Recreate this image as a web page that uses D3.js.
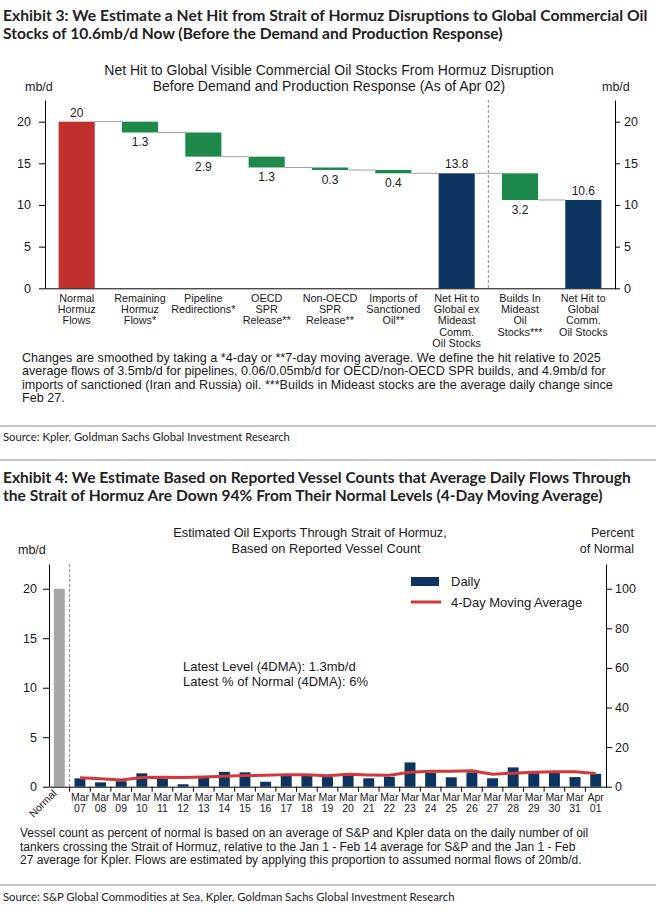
<!DOCTYPE html>
<html>
<head>
<meta charset="utf-8">
<script src="https://cdn.jsdelivr.net/npm/d3@7"></script>
<style>
  body { margin: 0; background: #fff; }
  svg { display: block; }
  .chart text { font-family: "Liberation Sans", Arial, sans-serif; fill: #1a1a1a; }
  .chart text.head { font-family: Lato, "Open Sans", sans-serif; font-weight: 700; fill: #222; }
  .chart text.src { font-family: Lato, "Open Sans", sans-serif; fill: #222; }
</style>
</head>
<body>
<div id="page"></div>
<script>
// ---- Exhibit 3 data (waterfall) ----
const wfCategories = ["normal", "remaining", "pipeline", "oecd", "nonoecd", "sanctioned", "exMideast", "builds", "global"];
const wfLabels = [
    ["Normal", "Hormuz", "Flows"],
    ["Remaining", "Hormuz", "Flows*"],
    ["Pipeline", "Redirections*"],
    ["OECD", "SPR", "Release**"],
    ["Non-OECD", "SPR", "Release**"],
    ["Imports of", "Sanctioned", "Oil**"],
    ["Net Hit to", "Global ex", "Mideast", "Comm.", "Oil Stocks"],
    ["Builds In", "Mideast", "Oil", "Stocks***"],
    ["Net Hit to", "Global", "Comm.", "Oil Stocks"]
];
const wfValues = [20, 1.3, 2.9, 1.3, 0.3, 0.4, 13.8, 3.2, 10.6];
const wfKinds = ["start", "drop", "drop", "drop", "drop", "drop", "total", "drop", "total"];
const wfTicks = [0, 5, 10, 15, 20];

// ---- Exhibit 4 data (daily flows, mb/d) ----
const flowMonths = ["Mar", "Mar", "Mar", "Mar", "Mar", "Mar", "Mar", "Mar", "Mar", "Mar", "Mar", "Mar", "Mar",
    "Mar", "Mar", "Mar", "Mar", "Mar", "Mar", "Mar", "Mar", "Mar", "Mar", "Mar", "Mar", "Apr"];
const flowDays = ["07", "08", "09", "10", "11", "12", "13", "14", "15", "16", "17", "18", "19",
    "20", "21", "22", "23", "24", "25", "26", "27", "28", "29", "30", "31", "01"];
const normalFlow = 20;
const dailyFlows = [0.84, 0.44, 0.55, 1.35, 1.05, 0.25, 0.9, 1.5, 1.45, 0.5, 1.1, 1.25, 0.97,
    1.15, 0.85, 1.0, 2.45, 1.4, 0.95, 1.45, 0.85, 1.95, 1.35, 1.55, 0.97, 1.3];
const movingAvg = [0.9, 0.8, 0.68, 0.92, 0.95, 0.93, 0.97, 1.05, 1.12, 1.15, 1.22, 1.2, 1.1,
    1.25, 1.18, 1.15, 1.45, 1.55, 1.55, 1.62, 1.25, 1.37, 1.47, 1.52, 1.52, 1.33];
const flowTicks = [0, 5, 10, 15, 20];
const pctTicks = [0, 20, 40, 60, 80, 100];

const RED = "#c0302e", GREEN = "#1d8a4c", NAVY = "#0c3461", GREY = "#a6a6a6", LINE_RED = "#d2383a";

const svg = d3.select("#page").append("svg")
    .attr("width", 658)
    .attr("height", 913)
    .attr("class", "chart");

// squeeze a text horizontally so it spans "width" px (narrow report font)
function fitText(sel, x0, y0, width) {
    const len = sel.node().getComputedTextLength();
    sel.attr("transform", `translate(${x0},${y0}) scale(${width / len},1)`);
}

// headings / sources / rules
function heading(text, y, width) {
    const t = svg.append("text").attr("class", "head")
        .style("font-size", "15.5px")
        .text(text);
    fitText(t, 3, y, width);
}
heading("Exhibit 3: We Estimate a Net Hit from Strait of Hormuz Disruptions to Global Commercial Oil", 21, 645);
heading("Stocks of 10.6mb/d Now (Before the Demand and Production Response)", 39, 500);
heading("Exhibit 4: We Estimate Based on Reported Vessel Counts that Average Daily Flows Through", 483, 628);
heading("the Strait of Hormuz Are Down 94% From Their Normal Levels (4-Day Moving Average)", 501, 600);

function rule(y) {
    svg.append("line").attr("x1", 0).attr("x2", 656).attr("y1", y).attr("y2", y)
        .attr("stroke", "#8c8c8c").attr("stroke-width", 1);
}
rule(426); rule(460); rule(885);

function source(text, y, width) {
    const t = svg.append("text").attr("class", "src")
        .style("font-size", "11.5px")
        .text(text);
    fitText(t, 3, y, width);
}
source("Source: Kpler, Goldman Sachs Global Investment Research", 441, 287);
source("Source: S&P Global Commodities at Sea, Kpler, Goldman Sachs Global Investment Research", 901, 452);

function notes(lines, x, y0, step, size, sx) {
    const g = svg.append("g").attr("transform", `translate(${x},0) scale(${sx},1)`);
    lines.forEach((t, i) => {
        g.append("text").attr("x", 0).attr("y", y0 + i * step)
            .style("font-size", size).text(t);
    });
}

// ================= Exhibit 3 =================
const x = d3.scaleBand().domain(wfCategories).range([45, 615])
    .paddingInner(0.43).paddingOuter(0.215);
const y = d3.scaleLinear().domain([0, 22.6]).range([288.3, 100]);

// running levels
let level = 0;
const wf = wfCategories.map((c, i) => {
    let top, bottom;
    if (wfKinds[i] === "drop") {
        top = level; bottom = level - wfValues[i]; level = bottom;
    } else {
        top = wfValues[i]; bottom = 0; level = top;
    }
    return { key: c, top, bottom, kind: wfKinds[i], value: wfValues[i] };
});

const g3 = svg.append("g");

// title
g3.append("text").attr("x", 329).attr("y", 75).attr("text-anchor", "middle")
    .style("font-size", "14px").text("Net Hit to Global Visible Commercial Oil Stocks From Hormuz Disruption");
g3.append("text").attr("x", 329).attr("y", 91).attr("text-anchor", "middle")
    .style("font-size", "14px").text("Before Demand and Production Response (As of Apr 02)");
g3.append("text").attr("x", 25).attr("y", 91).style("font-size", "12.5px").text("mb/d");
g3.append("text").attr("x", 602).attr("y", 91).style("font-size", "12.5px").text("mb/d");

// divider
const divX = x("builds") - x.step() * x.paddingInner() / 2;
g3.append("line").attr("x1", divX).attr("x2", divX).attr("y1", y(22.6)).attr("y2", y(0))
    .attr("stroke", "#8c8c8c").attr("stroke-dasharray", "3,2");

// connectors
wf.slice(0, -1).forEach((d, i) => {
    const lv = d.kind === "drop" ? d.bottom : d.top;
    g3.append("line")
        .attr("x1", x(d.key) + x.bandwidth()).attr("x2", x(wf[i + 1].key))
        .attr("y1", y(lv)).attr("y2", y(lv))
        .attr("stroke", "#a0a0a0").attr("stroke-width", 1);
});

// bars
g3.selectAll("rect.wf").data(wf).enter().append("rect")
    .attr("class", "wf")
    .attr("x", d => x(d.key))
    .attr("width", x.bandwidth())
    .attr("y", d => y(d.top))
    .attr("height", d => y(d.bottom) - y(d.top))
    .attr("fill", d => d.kind === "start" ? RED : d.kind === "total" ? NAVY : GREEN);

// value labels
g3.selectAll("text.val").data(wf).enter().append("text")
    .attr("class", "val")
    .attr("x", d => x(d.key) + x.bandwidth() / 2)
    .attr("y", d => d.kind === "drop" ? y(d.bottom) + 14 : y(d.top) - 5)
    .attr("text-anchor", "middle")
    .style("font-size", "12px")
    .text(d => d.value);

// axes
g3.append("g").attr("transform", "translate(45,0)")
    .call(d3.axisLeft(y).tickValues(wfTicks).tickSize(6).tickSizeOuter(0).tickPadding(8))
    .call(a => a.selectAll("text").style("font-size", "12.5px"));
g3.append("g").attr("transform", "translate(615,0)")
    .call(d3.axisRight(y).tickValues(wfTicks).tickSize(5).tickSizeOuter(0).tickPadding(4))
    .call(a => a.selectAll("text").style("font-size", "12.5px"));
g3.append("g").attr("transform", `translate(0,${y(0)})`)
    .call(d3.axisBottom(x).tickSize(0).tickSizeOuter(0).tickFormat(""));

// category labels
wfCategories.forEach((c, i) => {
    const t = g3.append("text")
        .attr("x", x(c) + x.bandwidth() / 2).attr("y", 302)
        .attr("text-anchor", "middle").style("font-size", "10.8px");
    wfLabels[i].forEach((ln, j) => {
        t.append("tspan").attr("x", x(c) + x.bandwidth() / 2).attr("dy", j === 0 ? 0 : 11.2).text(ln);
    });
});

notes([
    "Changes are smoothed by taking a *4-day or **7-day moving average. We define the hit relative to 2025",
    "average flows of 3.5mb/d for pipelines, 0.06/0.05mb/d for OECD/non-OECD SPR builds, and 4.9mb/d for",
    "imports of sanctioned (Iran and Russia) oil. ***Builds in Mideast stocks are the average daily change since",
    "Feb 27."
], 22, 362, 13.4, "12px", 1.05);

// ================= Exhibit 4 =================
const flowKeys = flowDays.map((d, i) => flowMonths[i] + " " + d);
const xb = d3.scaleBand().domain(["Normal", ...flowKeys]).range([49, 606])
    .paddingInner(0.47).paddingOuter(0.235);
const yb = d3.scaleLinear().domain([0, 22.5]).range([786.7, 564]);
const yp = d3.scaleLinear().domain([0, 112.5]).range([786.7, 564]);

const g4 = svg.append("g");

g4.append("text").attr("x", 310).attr("y", 537).attr("text-anchor", "middle")
    .style("font-size", "12.8px").text("Estimated Oil Exports Through Strait of Hormuz,");
g4.append("text").attr("x", 326).attr("y", 553).attr("text-anchor", "middle")
    .style("font-size", "12.8px").text("Based on Reported Vessel Count");
g4.append("text").attr("x", 18).attr("y", 554).style("font-size", "12.5px").text("mb/d");
g4.append("text").attr("x", 634).attr("y", 537).attr("text-anchor", "end").style("font-size", "12.5px").text("Percent");
g4.append("text").attr("x", 634).attr("y", 553).attr("text-anchor", "end").style("font-size", "12.5px").text("of Normal");

// divider after "Normal"
const div4 = xb(flowKeys[0]) - xb.step() * xb.paddingInner() / 2;
g4.append("line").attr("x1", div4).attr("x2", div4).attr("y1", yb(22.5)).attr("y2", yb(0))
    .attr("stroke", "#8c8c8c").attr("stroke-dasharray", "3,2");

// bars
g4.append("rect")
    .attr("x", xb("Normal")).attr("width", xb.bandwidth())
    .attr("y", yb(normalFlow)).attr("height", yb(0) - yb(normalFlow))
    .attr("fill", GREY);
g4.selectAll("rect.daily").data(dailyFlows).enter().append("rect")
    .attr("class", "daily")
    .attr("x", (d, i) => xb(flowKeys[i]))
    .attr("width", xb.bandwidth())
    .attr("y", d => yb(d))
    .attr("height", d => yb(0) - yb(d))
    .attr("fill", NAVY);

// moving average
g4.append("path")
    .datum(movingAvg)
    .attr("fill", "none")
    .attr("stroke", LINE_RED)
    .attr("stroke-width", 3)
    .attr("stroke-linejoin", "round")
    .attr("d", d3.line()
        .x((d, i) => xb(flowKeys[i]) + xb.bandwidth() / 2)
        .y(d => yb(d)));

// axes
g4.append("g").attr("transform", "translate(49,0)")
    .call(d3.axisLeft(yb).tickValues(flowTicks).tickSize(6).tickSizeOuter(0).tickPadding(6))
    .call(a => a.selectAll("text").style("font-size", "12.5px"));
g4.append("g").attr("transform", "translate(606,0)")
    .call(d3.axisRight(yp).tickValues(pctTicks).tickSize(6).tickSizeOuter(0).tickPadding(3))
    .call(a => a.selectAll("text").style("font-size", "12.5px"));
g4.append("g").attr("transform", `translate(0,${yb(0)})`)
    .call(d3.axisBottom(xb).tickSize(0).tickSizeOuter(0).tickFormat(""));

// ticks between bands
const bounds = xb.domain().slice(1).map(k => xb(k) - xb.step() * xb.paddingInner() / 2);
g4.selectAll("line.xt").data(bounds).enter().append("line")
    .attr("class", "xt")
    .attr("x1", d => d).attr("x2", d => d)
    .attr("y1", yb(0)).attr("y2", yb(0) + 5)
    .attr("stroke", "#000");

// date labels
flowKeys.forEach((k, i) => {
    const cx = xb(k) + xb.bandwidth() / 2;
    g4.append("text").attr("x", cx).attr("y", 801).attr("text-anchor", "middle")
        .style("font-size", "10.5px").text(flowMonths[i]);
    g4.append("text").attr("x", cx).attr("y", 812).attr("text-anchor", "middle")
        .style("font-size", "10.5px").text(flowDays[i]);
});
g4.append("text")
    .attr("transform", `translate(${xb("Normal") + xb.bandwidth() / 2 - 2},794) rotate(-45)`)
    .attr("text-anchor", "end").style("font-size", "10.5px").text("Normal");

// legend
g4.append("rect").attr("x", 411).attr("y", 577).attr("width", 28).attr("height", 9).attr("fill", NAVY);
g4.append("text").attr("x", 451).attr("y", 586).style("font-size", "13px").text("Daily");
g4.append("line").attr("x1", 411).attr("x2", 441).attr("y1", 602).attr("y2", 602)
    .attr("stroke", LINE_RED).attr("stroke-width", 3);
g4.append("text").attr("x", 451).attr("y", 607).style("font-size", "13px").text("4-Day Moving Average");

// annotation
g4.append("text").attr("x", 183).attr("y", 671).style("font-size", "13px").text("Latest Level (4DMA): 1.3mb/d");
g4.append("text").attr("x", 183).attr("y", 686).style("font-size", "13px").text("Latest % of Normal (4DMA): 6%");

notes([
    "Vessel count as percent of normal is based on an average of S&P and Kpler data on the daily number of oil",
    "tankers crossing the Strait of Hormuz, relative to the Jan 1 - Feb 14 average for S&P and the Jan 1 - Feb",
    "27 average for Kpler. Flows are estimated by applying this proportion to assumed normal flows of 20mb/d."
], 20, 837, 13.5, "12px", 1);
</script>
</body>
</html>
